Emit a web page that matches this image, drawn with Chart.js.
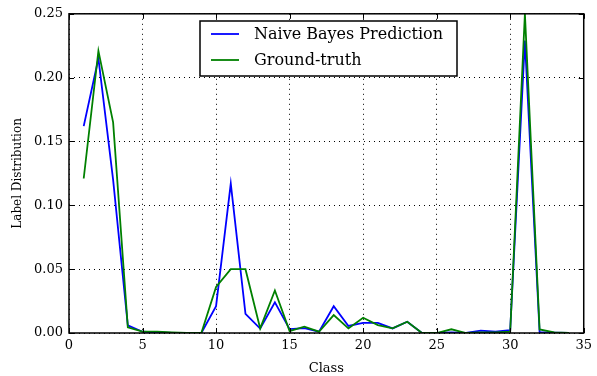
<!DOCTYPE html>
<html>
<head>
<meta charset="utf-8">
<script src="https://cdn.jsdelivr.net/npm/chart.js@4.4.1/dist/chart.umd.min.js"></script>
<style>
    html, body { margin: 0; padding: 0; background: #fff; }
    #wrap { width: 597px; height: 376px; }
</style>
</head>
<body>
<div id="wrap"><canvas id="chart" width="597" height="376"></canvas></div>
<script>
// Class indices 1..34
const classes = [1, 2, 3, 4, 5, 6, 7, 8, 9, 10, 11, 12, 13, 14, 15, 16, 17,
    18, 19, 20, 21, 22, 23, 24, 25, 26, 27, 28, 29, 30, 31, 32, 33, 34];

const naiveBayes = [0.162, 0.215, 0.120, 0.006, 0.001, 0.0005, 0, 0, 0, 0.021,
    0.117, 0.015, 0.0035, 0.024, 0.003, 0.0038, 0.001, 0.021, 0.0055, 0.008,
    0.008, 0.0036, 0.0088, 0, 0, 0.0005, 0, 0.0018, 0.001, 0.0023,
    0.229, 0.0006, 0.0003, 0];

const groundTruth = [0.121, 0.221, 0.165, 0.0045, 0.001, 0.001, 0.0005, 0, 0, 0.036,
    0.05, 0.05, 0.0036, 0.0333, 0.0015, 0.005, 0.001, 0.014, 0.0036, 0.0119,
    0.0062, 0.0036, 0.0088, 0, 0, 0.0029, 0, 0.0005, 0.0005, 0.001,
    0.25, 0.0028, 0.0005, 0];

const xTicks = [0, 5, 10, 15, 20, 25, 30, 35];
const yTicks = [0, 0.05, 0.10, 0.15, 0.20, 0.25];

const FONT = "'DejaVu Serif', 'Liberation Serif', serif";

// matplotlib-style inward tick marks and black frame
const framePlugin = {
    id: 'frame',
    afterDraw: (chart) => {
        const ctx = chart.ctx;
        const a = chart.chartArea;
        const xs = chart.scales.x;
        const ys = chart.scales.y;
        ctx.save();
        ctx.strokeStyle = '#000';
        ctx.lineWidth = 1;
        ctx.beginPath();
        xTicks.forEach(v => {
            const px = Math.round(xs.getPixelForValue(v)) + 0.5;
            ctx.moveTo(px, a.bottom); ctx.lineTo(px, a.bottom - 5);
            ctx.moveTo(px, a.top); ctx.lineTo(px, a.top + 5);
        });
        yTicks.forEach(v => {
            const py = Math.round(ys.getPixelForValue(v)) + 0.5;
            ctx.moveTo(a.left, py); ctx.lineTo(a.left + 5, py);
            ctx.moveTo(a.right, py); ctx.lineTo(a.right - 5, py);
        });
        ctx.stroke();
        ctx.lineWidth = 1.5;
        ctx.strokeRect(a.left, a.top, a.right - a.left, a.bottom - a.top);
        ctx.restore();
    }
};

// legend drawn as a framed box like matplotlib's
const legendBoxPlugin = {
    id: 'legendBox',
    afterDraw: (chart) => {
        const ctx = chart.ctx;
        const x0 = 200, y0 = 21, w = 257, h = 55;
        ctx.save();
        ctx.fillStyle = '#fff';
        ctx.fillRect(x0, y0, w, h);
        ctx.strokeStyle = '#000';
        ctx.lineWidth = 1.5;
        ctx.strokeRect(x0, y0, w, h);
        ctx.font = `16px ${FONT}`;
        ctx.textBaseline = 'middle';
        chart.data.datasets.forEach((ds, i) => {
            const cy = y0 + 13 + i * 26;
            ctx.strokeStyle = ds.borderColor;
            ctx.lineWidth = 1.8;
            ctx.beginPath();
            ctx.moveTo(x0 + 11, cy);
            ctx.lineTo(x0 + 39, cy);
            ctx.stroke();
            ctx.fillStyle = '#000';
            ctx.fillText(ds.label, x0 + 54, cy + 1);
        });
        ctx.restore();
    }
};

const toPoints = (vals) => classes.map((c, i) => ({ x: c, y: vals[i] }));

new Chart(document.getElementById('chart').getContext('2d'), {
    type: 'line',
    data: {
        datasets: [{
            label: 'Naive Bayes Prediction',
            data: toPoints(naiveBayes),
            borderColor: '#0000ff',
            backgroundColor: '#0000ff',
            borderWidth: 1.8,
            pointRadius: 0,
            tension: 0,
            order: 2
        }, {
            label: 'Ground-truth',
            data: toPoints(groundTruth),
            borderColor: '#008000',
            backgroundColor: '#008000',
            borderWidth: 1.8,
            pointRadius: 0,
            tension: 0,
            order: 1
        }]
    },
    options: {
        responsive: false,
        animation: false,
        layout: { padding: { top: 11, right: 9, left: 0, bottom: 0 } },
        plugins: {
            legend: { display: false },
            tooltip: { enabled: false }
        },
        scales: {
            x: {
                type: 'linear',
                min: 0,
                max: 35,
                afterBuildTicks: (s) => { s.ticks = xTicks.map(v => ({ value: v })); },
                afterFit: (s) => { s.height = 43; },
                grid: {
                    color: '#000',
                    lineWidth: 1,
                    drawTicks: false,
                    tickLength: 0
                },
                border: { display: false, dash: [1, 4] },
                ticks: {
                    color: '#000',
                    padding: 5,
                    font: { family: FONT, size: 13 },
                    maxRotation: 0
                },
                title: {
                    display: true,
                    text: 'Class',
                    color: '#000',
                    padding: { top: 2, bottom: 0 },
                    font: { family: FONT, size: 13 }
                }
            },
            y: {
                min: 0,
                max: 0.25,
                afterBuildTicks: (s) => { s.ticks = yTicks.map(v => ({ value: v })); },
                afterFit: (s) => { s.width = 69; },
                grid: {
                    color: '#000',
                    lineWidth: 1,
                    drawTicks: false,
                    tickLength: 0
                },
                border: { display: false, dash: [1, 4] },
                ticks: {
                    color: '#000',
                    padding: 6,
                    font: { family: FONT, size: 13 },
                    callback: (v) => v.toFixed(2)
                },
                title: {
                    display: true,
                    text: 'Label Distribution',
                    color: '#000',
                    padding: { top: 11, bottom: 0 },
                    font: { family: FONT, size: 12 }
                }
            }
        }
    },
    plugins: [framePlugin, legendBoxPlugin]
});
</script>
</body>
</html>
